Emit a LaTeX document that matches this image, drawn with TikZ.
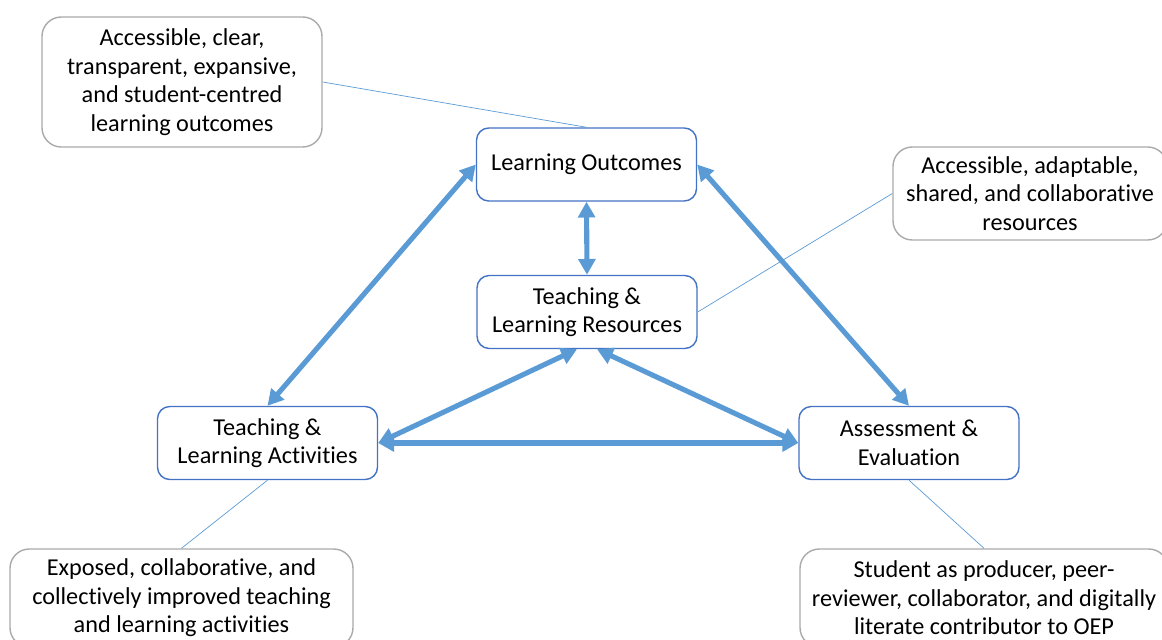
\documentclass[tikz,border=0pt]{standalone}
\usepackage{fontspec}
\setmainfont{Carlito}[Ligatures=NoCommon]
\definecolor{boxblue}{RGB}{68, 114, 196}
\definecolor{arrowblue}{RGB}{91, 155, 213}
\definecolor{notegray}{RGB}{170, 170, 170}
\usetikzlibrary{arrows.meta, calc}

\begin{document}
\begin{tikzpicture}[
  core/.style={draw=boxblue, line width=0.8pt, fill=white, rounded corners=7pt, minimum width=4.4cm, minimum height=1.46cm, align=center, font=\fontsize{13.8}{16.3}\selectfont},
  note/.style={draw=notegray, line width=0.8pt, fill=white, rounded corners=11pt, align=center, font=\fontsize{13.8}{16.3}\selectfont},
  link/.style={arrowblue, line width=2.9pt, {Triangle[length=9pt, width=9.5pt]}-{Triangle[length=9pt, width=9.5pt]}},
  lead/.style={arrowblue, line width=0.4pt}
]
  \useasboundingbox (0, 0) rectangle (23.24, 12.78);

  % Core elements
  \node[core] (lo) at (11.73, 9.49) {Learning Outcomes};
  \node[core] (res) at (11.74, 6.54) {Teaching \&\\Learning Resources};
  \node[core] (act) at (5.35, 3.92) {Teaching \&\\Learning Activities};
  \node[core] (ass) at (18.18, 3.92) {Assessment \&\\Evaluation};

  % Open practice notes
  \node[note, minimum width=5.6cm, minimum height=2.6cm] (nlo) at (3.64, 11.14) {Accessible, clear,\\transparent, expansive,\\and student-centred\\learning outcomes};
  \node[note, minimum width=5.48cm, minimum height=1.86cm] (nres) at (20.6, 8.91) {Accessible, adaptable,\\shared, and collaborative\\resources};
  \node[note, minimum width=6.86cm, minimum height=1.96cm] (nact) at (3.63, 0.82) {Exposed, collaborative, and\\collectively improved teaching\\and learning activities};
  \node[note, minimum width=7.36cm, minimum height=1.96cm] (nass) at (19.68, 0.82) {Student as producer, peer-\\reviewer, collaborator, and digitally\\literate contributor to OEP};

  % Leads to notes
  \draw[lead] (nlo.east) -- (lo.north);
  \draw[lead] (nres.west) -- (res.east);
  \draw[lead] (act.south) -- (nact.north);
  \draw[lead] (ass.south) -- (nass.north);

  % Alignment arrows
  \draw[link] (lo.south) -- (res.north);
  \draw[link] (lo.west) -- (act.north);
  \draw[link] (lo.east) -- (ass.north);
  \draw[link] ([xshift=-0.2cm]res.south) -- (act.east);
  \draw[link] ([xshift=0.2cm]res.south) -- (ass.west);
  \draw[link] (act.east) -- (ass.west);
\end{tikzpicture}
\end{document}
